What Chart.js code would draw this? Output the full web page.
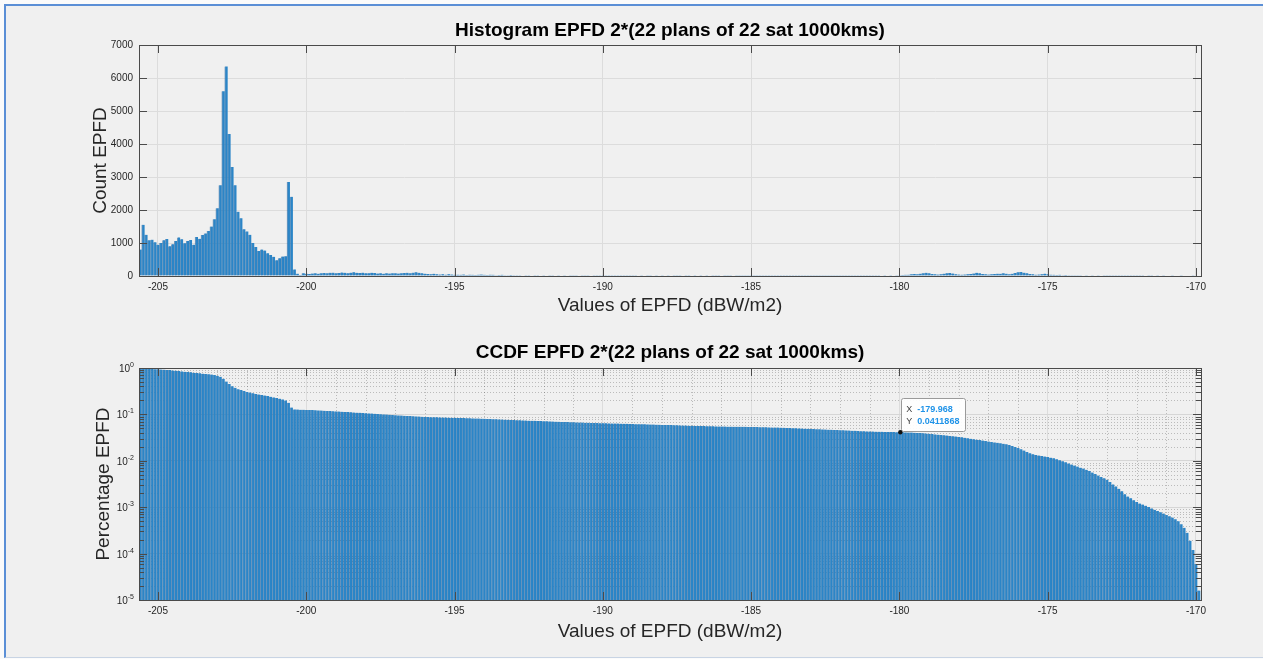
<!DOCTYPE html>
<html>
<head>
<meta charset="utf-8">
<script src="https://cdn.jsdelivr.net/npm/chart.js@4"></script>
<style>
  html, body { margin: 0; padding: 0; background: #fbfbfb; overflow: hidden; }
  #fig {
    position: absolute; left: 4px; top: 4px; width: 1263px; height: 651px;
    background: #f0f0f0;
    border-left: 2px solid #5b8fd6; border-top: 2px solid #5b8fd6; border-bottom: 1px solid #c8d4e4;
  }
  canvas { position: absolute; left: 0; }
  #hist { top: 0; }
  #ccdf { top: 330px; }
</style>
</head>
<body>
<div id="fig"></div>
<canvas id="hist" width="1263" height="330"></canvas>
<canvas id="ccdf" width="1263" height="329"></canvas>
<script>
// EPFD bins: 0.1 dB wide, first bin centred on -205.6 dBW/m2
const binStart = -205.6;
const binWidth = 0.1;

const countEPFD = [
  800, 1550, 1250, 1080, 1100, 1020, 950, 1000, 1080, 1120,
  900, 960, 1060, 1170, 1110, 990, 1060, 1090, 950, 1180,
  1130, 1240, 1290, 1360, 1500, 1720, 2050, 2750, 5600, 6350,
  4300, 3300, 2750, 1950, 1750, 1420, 1350, 1250, 1000, 880,
  760, 800, 770, 690, 640, 580, 480, 540, 590, 600,
  2850, 2400, 200, 70, 30, 80, 70,
  60, 75, 80, 70, 85, 90, 80, 95, 100, 85,
  90, 105, 95, 85, 100, 110, 95, 90, 100, 85,
  80, 95, 90, 75, 85, 70, 80, 75, 85, 80,
  75, 85, 90, 95, 80, 100, 110, 95, 85, 70,
  60, 55, 65, 50, 45, 55, 40, 50, 45, 35,
  40, 35, 45, 30, 40, 35, 30, 40, 45, 35,
  30, 40, 35, 25, 30, 35, 25, 20, 30, 25,
  20, 25, 15, 20, 25, 15, 20, 10, 15, 20,
  15, 10, 20, 15, 10, 15, 10, 15, 20, 10,
  10, 15, 10, 5, 10, 15, 10, 5, 10, 10,
  5, 10, 5, 10, 5, 5, 10, 5, 10, 5,
  10, 15, 20, 15, 10, 20, 15, 25, 15, 10,
  15, 20, 15, 10, 20, 25, 15, 20, 10, 15,
  20, 15, 10, 15, 20, 15, 10, 5, 10, 15,
  10, 5, 10, 15, 10, 5, 10, 5, 10, 5,
  5, 10, 5, 10, 5, 5, 10, 5, 5, 10,
  5, 5, 10, 5, 5, 10, 5, 5, 5, 10,
  5, 10, 5, 5, 10, 5, 5, 10, 5, 5,
  5, 5, 10, 5, 5, 5, 10, 5, 5, 10,
  10, 5, 10, 15, 10, 15, 20, 15, 20, 25,
  30, 35, 40, 50, 60, 55, 70, 85, 95, 80,
  60, 50, 45, 55, 70, 85, 90, 75, 55, 45,
  40, 45, 50, 60, 75, 95, 80, 60, 50, 45,
  50, 60, 70, 65, 85, 70, 55, 65, 90, 110,
  125, 100, 80, 60, 50, 40, 45, 55, 70, 50,
  40, 35, 30, 35, 25, 30, 25, 20, 25, 20,
  20, 15, 20, 15, 10, 15, 10, 15, 10, 10,
  10, 5, 10, 5, 5, 10, 5, 5, 5, 5,
  5, 5, 0, 5, 5, 0, 5, 0, 5, 0,
  0, 5, 0, 0, 5, 0, 0, 0, 5, 0,
  0
];

const ccdfEPFD = [
  0.99, 0.98, 0.97, 0.96, 0.955, 0.945, 0.94, 0.93, 0.92, 0.91,
  0.90, 0.885, 0.875, 0.86, 0.845, 0.83, 0.82, 0.805, 0.79, 0.78,
  0.77, 0.755, 0.74, 0.73, 0.72, 0.705, 0.68, 0.645, 0.585, 0.51,
  0.45, 0.405, 0.375, 0.35, 0.335, 0.32, 0.305, 0.295, 0.285, 0.275,
  0.268, 0.262, 0.255, 0.248, 0.24, 0.232, 0.225, 0.218, 0.21, 0.2,
  0.178, 0.14, 0.128, 0.127, 0.126, 0.126, 0.125,
  0.125, 0.124, 0.123, 0.122, 0.121, 0.12, 0.119, 0.118, 0.117, 0.116,
  0.115, 0.114, 0.113, 0.112, 0.111, 0.110, 0.109, 0.108, 0.107, 0.106,
  0.105, 0.104, 0.103, 0.102, 0.101, 0.1, 0.099, 0.098, 0.097, 0.096,
  0.0952, 0.0944, 0.0936, 0.0928, 0.092, 0.0912, 0.0904, 0.0896, 0.0889, 0.0882,
  0.0877, 0.0873, 0.0869, 0.0865, 0.0861, 0.0857, 0.0853, 0.0849, 0.0846, 0.0843,
  0.084, 0.0836, 0.0832, 0.0828, 0.0824, 0.082, 0.0816, 0.0812, 0.0808, 0.0804,
  0.0799, 0.0794, 0.0789, 0.0784, 0.0779, 0.0774, 0.0769, 0.0764, 0.0759, 0.0754,
  0.075, 0.0746, 0.0742, 0.0738, 0.0734, 0.073, 0.0726, 0.0722, 0.0718, 0.0714,
  0.071, 0.0706, 0.0702, 0.0698, 0.0694, 0.069, 0.0686, 0.0682, 0.0678, 0.0674,
  0.0671, 0.0668, 0.0665, 0.0662, 0.0659, 0.0656, 0.0653, 0.065, 0.0647, 0.0644,
  0.0642, 0.064, 0.0638, 0.0636, 0.0634, 0.0631, 0.0628, 0.0625, 0.0622, 0.0619,
  0.0617, 0.0615, 0.0613, 0.0611, 0.0609, 0.0606, 0.0603, 0.06, 0.0597, 0.0594,
  0.0592, 0.059, 0.0588, 0.0585, 0.0582, 0.0579, 0.0576, 0.0573, 0.057, 0.0567,
  0.0565, 0.0563, 0.0561, 0.0559, 0.0557, 0.0555, 0.0553, 0.0551, 0.0549, 0.0547,
  0.0546, 0.0545, 0.0544, 0.0543, 0.0542, 0.0541, 0.054, 0.0539, 0.0538, 0.0537,
  0.0535, 0.0533, 0.0531, 0.0529, 0.0527, 0.0525, 0.0523, 0.0521, 0.0519, 0.0517,
  0.0514, 0.0511, 0.0508, 0.0505, 0.0502, 0.0499, 0.0496, 0.0493, 0.049, 0.0487,
  0.0484, 0.0481, 0.0478, 0.0475, 0.0472, 0.0469, 0.0466, 0.0463, 0.046, 0.0457,
  0.0454, 0.0451, 0.0448, 0.0445, 0.0442, 0.0439, 0.0436, 0.0433, 0.043, 0.0427,
  0.0426, 0.0424, 0.0423, 0.0421, 0.042, 0.0418, 0.0417, 0.0415, 0.0414, 0.0412,
  0.0411, 0.0409, 0.0407, 0.0405, 0.0402, 0.0399, 0.0396, 0.0392, 0.0388, 0.0382,
  0.0376, 0.0371, 0.0366, 0.0361, 0.0356, 0.035, 0.0344, 0.0338, 0.0332, 0.0326,
  0.032, 0.0313, 0.0305, 0.0298, 0.0291, 0.0285, 0.0279, 0.0273, 0.0267, 0.0261,
  0.0255, 0.0249, 0.0244, 0.0239, 0.0233, 0.0226, 0.0218, 0.0209, 0.0199, 0.0189,
  0.0178, 0.0166, 0.0155, 0.0146, 0.0139, 0.0134, 0.013, 0.0127, 0.0124, 0.0121,
  0.0117, 0.0113, 0.0108, 0.0103, 0.0098, 0.0093, 0.0088, 0.0083, 0.0079, 0.0075,
  0.0071, 0.0068, 0.0064, 0.006, 0.0056, 0.0052, 0.0048, 0.0045, 0.0042, 0.0039,
  0.0035, 0.0031, 0.0028, 0.0025, 0.0022, 0.0019, 0.0017, 0.00155, 0.00141, 0.0013,
  0.0012, 0.00114, 0.00108, 0.00101, 0.00094, 0.00088, 0.00083, 0.00078, 0.00073, 0.00068,
  0.00064, 0.0006, 0.00055, 0.0005, 0.00043, 0.00036, 0.00028, 0.00019, 0.00012, 0.00006,
  0.000016
];

const xTicks = [-205, -200, -195, -190, -185, -180, -175, -170];
const countTicks = [0, 1000, 2000, 3000, 4000, 5000, 6000, 7000];
const ccdfTicks = [1e-5, 1e-4, 1e-3, 1e-2, 1e-1, 1];
const xMin = -205.64;
const xMax = -169.83;

// data tip pinned on the CCDF curve
const tipX = -179.968;
const tipY = 0.0411868;

const binCenters = countEPFD.map((_, i) => +(binStart + i * binWidth).toFixed(1));

const FONT = "'Liberation Sans', Arial, Helvetica, sans-serif";
const INK = '#262626';
const BAR_FILL = '#2b85c7';
const BAR_EDGE = 'rgba(18, 86, 150, 0.55)';

// MATLAB-style box with inward ticks, dotted minor grid and 10^n labels for log axes
const axesBox = {
  id: 'axesBox',
  beforeDatasetsDraw(chart, args, opts) {
    if (!opts.minor) return;
    const { ctx, chartArea: a, scales: { x, y } } = chart;
    ctx.save();
    ctx.strokeStyle = 'rgba(0,0,0,0.22)';
    ctx.lineWidth = 1;
    ctx.setLineDash([1, 2]);
    ctx.beginPath();
    for (let k = -5; k < 0; k++) {
      for (let m = 2; m <= 9; m++) {
        const py = Math.round(y.getPixelForValue(m * Math.pow(10, k))) + 0.5;
        ctx.moveTo(a.left, py); ctx.lineTo(a.right, py);
      }
    }
    for (let v = -205; v <= -170; v++) {
      if (v % 5 === 0) continue;
      const px = Math.round(x.getPixelForValue(v)) + 0.5;
      ctx.moveTo(px, a.top); ctx.lineTo(px, a.bottom);
    }
    ctx.stroke();
    ctx.restore();
  },
  afterDatasetsDraw(chart, args, opts) {
    const { ctx, chartArea: a, scales: { x, y } } = chart;
    const len = 8, minorLen = 5;
    ctx.save();
    ctx.strokeStyle = '#4a4a4a';
    ctx.lineWidth = 1;
    ctx.beginPath();
    x.ticks.forEach(t => {
      const px = Math.round(x.getPixelForValue(t.value)) + 0.5;
      ctx.moveTo(px, a.bottom); ctx.lineTo(px, a.bottom - len);
      ctx.moveTo(px, a.top); ctx.lineTo(px, a.top + len);
    });
    y.ticks.forEach(t => {
      const py = Math.round(y.getPixelForValue(t.value)) + 0.5;
      ctx.moveTo(a.left, py); ctx.lineTo(a.left + len, py);
      ctx.moveTo(a.right, py); ctx.lineTo(a.right - len, py);
    });
    if (opts.minor) {
      for (let k = -5; k < 0; k++) {
        for (let m = 2; m <= 9; m++) {
          const py = Math.round(y.getPixelForValue(m * Math.pow(10, k))) + 0.5;
          ctx.moveTo(a.left, py); ctx.lineTo(a.left + minorLen, py);
          ctx.moveTo(a.right, py); ctx.lineTo(a.right - minorLen, py);
        }
      }
    }
    ctx.stroke();
    ctx.strokeRect(Math.round(a.left) + 0.5, Math.round(a.top) + 0.5,
      Math.round(a.right - a.left), Math.round(a.bottom - a.top));

    if (opts.minor) {
      // "10" with a raised exponent, right-aligned against the axis
      ctx.fillStyle = INK;
      ctx.textBaseline = 'alphabetic';
      y.ticks.forEach(t => {
        const py = y.getPixelForValue(t.value);
        const exp = String(Math.round(Math.log10(t.value)));
        ctx.font = `7px ${FONT}`;
        const ew = ctx.measureText(exp).width;
        const right = a.left - 5;
        ctx.textAlign = 'left';
        ctx.fillText(exp, right - ew, py - 1);
        ctx.font = `10px ${FONT}`;
        ctx.textAlign = 'right';
        ctx.fillText('10', right - ew, py + 4);
      });
    }
    ctx.restore();
  }
};

const dataTip = {
  id: 'dataTip',
  afterDraw(chart, args, opts) {
    if (!opts.show) return;
    const { ctx, scales: { x, y } } = chart;
    const px = x.getPixelForValue(tipX);
    const py = y.getPixelForValue(tipY);
    const rows = [['X', String(tipX)], ['Y', String(tipY)]];
    ctx.save();
    ctx.font = `bold 9px ${FONT}`;
    const w = 16 + Math.max(...rows.map(r => ctx.measureText(r[1]).width)) + 6;
    const h = 33;
    const left = px + 1, top = py - 1 - h;
    ctx.fillStyle = 'rgba(255,255,255,0.92)';
    ctx.strokeStyle = '#9a9a9a';
    ctx.lineWidth = 1;
    ctx.beginPath();
    ctx.roundRect(Math.round(left) + 0.5, Math.round(top) + 0.5, Math.round(w), h, 2);
    ctx.fill();
    ctx.stroke();
    ctx.textBaseline = 'middle';
    rows.forEach((r, i) => {
      const ty = top + 11 + i * 12;
      ctx.font = `9px ${FONT}`;
      ctx.fillStyle = '#404040';
      ctx.fillText(r[0], left + 5, ty);
      ctx.font = `bold 9px ${FONT}`;
      ctx.fillStyle = '#1f93e8';
      ctx.fillText(r[1], left + 16, ty);
    });
    ctx.fillStyle = '#111';
    ctx.beginPath();
    ctx.arc(px, py, 2.2, 0, Math.PI * 2);
    ctx.fill();
    ctx.restore();
  }
};

function barDataset(values) {
  return {
    data: binCenters.map((x, i) => ({ x, y: values[i] })),
    backgroundColor: BAR_FILL,
    borderColor: BAR_EDGE,
    borderWidth: { left: 1, top: 0, right: 0, bottom: 0 },
    barPercentage: 1,
    categoryPercentage: 1
  };
}

function xScale(height, titlePad) {
  return {
    type: 'linear', min: xMin, max: xMax, offset: false,
    afterBuildTicks: s => { s.ticks = xTicks.map(v => ({ value: v })); },
    afterFit: s => { s.height = height; },
    grid: { color: '#dcdcdc', drawTicks: false, offset: false },
    border: { display: false },
    ticks: { font: { family: FONT, size: 10 }, color: INK, padding: 5, maxRotation: 0, autoSkip: false, callback: v => String(v) },
    title: { display: true, text: 'Values of EPFD (dBW/m2)', font: { family: FONT, size: 19 }, color: INK, padding: { top: 0, bottom: titlePad } }
  };
}

function options(title, padTop, titleGap, yAxis, plugins) {
  return {
    responsive: false,
    animation: false,
    events: [],
    layout: { padding: { top: padTop, left: 80, right: 62, bottom: 0 } },
    plugins: Object.assign({
      legend: { display: false },
      tooltip: { enabled: false },
      title: {
        display: true, text: title, fullSize: false, color: '#000',
        font: { family: FONT, size: 19, weight: 'bold' }, padding: { top: 0, bottom: titleGap }
      }
    }, plugins),
    scales: yAxis
  };
}

new Chart(document.getElementById('hist'), {
  type: 'bar',
  data: { datasets: [barDataset(countEPFD)] },
  plugins: [axesBox],
  options: options('Histogram EPFD 2*(22 plans of 22 sat 1000kms)', 19.6, 2.6, {
    x: xScale(54, 12.6),
    y: {
      type: 'linear', min: 0, max: 7000,
      afterBuildTicks: s => { s.ticks = countTicks.map(v => ({ value: v })); },
      afterFit: s => { s.width = 59; },
      grid: { color: '#dcdcdc', drawTicks: false },
      border: { display: false },
      ticks: { font: { family: FONT, size: 10 }, color: INK, padding: 6, callback: v => String(v) },
      title: { display: true, text: 'Count EPFD', font: { family: FONT, size: 19 }, color: INK, padding: { top: 9.1, bottom: 0 } }
    }
  }, { axesBox: { minor: false } })
});

new Chart(document.getElementById('ccdf'), {
  type: 'bar',
  data: { datasets: [barDataset(ccdfEPFD)] },
  plugins: [axesBox, dataTip],
  options: options('CCDF EPFD 2*(22 plans of 22 sat 1000kms)', 11.6, 3.6, {
    x: xScale(59, 15.6),
    y: {
      type: 'logarithmic', min: 1e-5, max: 1,
      afterBuildTicks: s => { s.ticks = ccdfTicks.map(v => ({ value: v })); },
      afterFit: s => { s.width = 59; },
      grid: { color: '#d6d6d6', drawTicks: false },
      border: { display: false },
      ticks: { display: false },
      title: { display: true, text: 'Percentage EPFD', font: { family: FONT, size: 19 }, color: INK, padding: { top: 12.1, bottom: 0 } }
    }
  }, { axesBox: { minor: true }, dataTip: { show: true } })
});
</script>
</body>
</html>
